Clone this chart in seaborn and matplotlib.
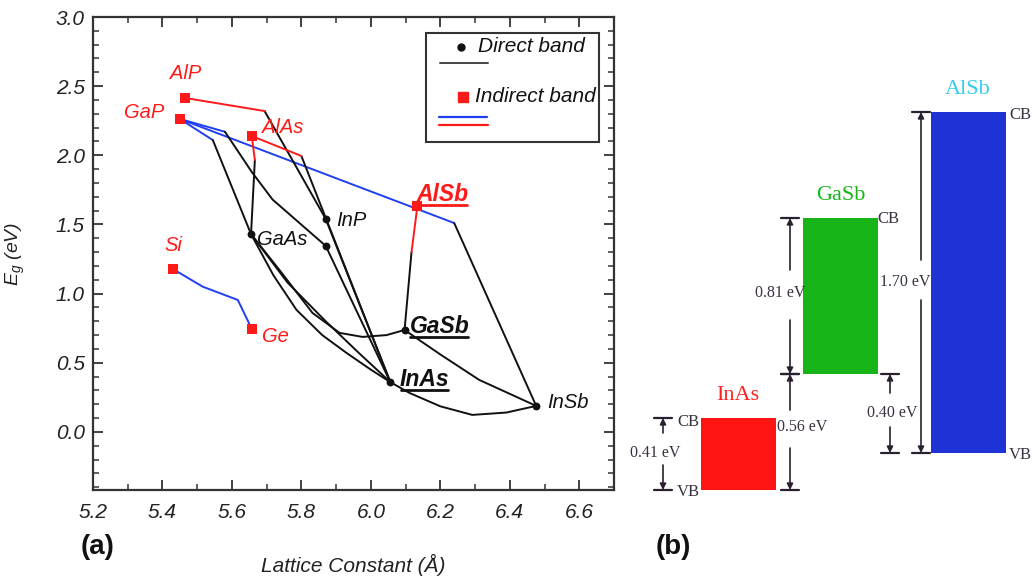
import numpy as np
import matplotlib
matplotlib.use('Agg')
import matplotlib.pyplot as plt
import seaborn as sns
from matplotlib.ticker import MultipleLocator
from matplotlib.lines import Line2D
from matplotlib.patches import Rectangle

# ---- (a) band gap vs lattice constant ----
direct_names = ['InP', 'GaAs', 'GaSb', 'InAs', 'InSb']
direct_a = [5.870, 5.870, 5.655, 6.097, 6.056, 6.476]
direct_eg = [1.54, 1.345, 1.43, 0.737, 0.36, 0.188]

indirect_names = ['AlP', 'GaP', 'AlAs', 'AlSb', 'Si', 'Ge']
indirect_a = [5.464, 5.450, 5.657, 6.134, 5.430, 5.657]
indirect_eg = [2.415, 2.263, 2.14, 1.634, 1.178, 0.745]

# alloy curves, indirect part (blue)
gap_alsb_a, gap_alsb_eg = [5.450, 6.240], [2.263, 1.51]
gap_gaas_ind_a, gap_gaas_ind_eg = [5.450, 5.545], [2.263, 2.11]
gap_inp_ind_a, gap_inp_ind_eg = [5.450, 5.58], [2.263, 2.17]
si_ge_a, si_ge_eg = [5.430, 5.516, 5.617, 5.657], [1.178, 1.05, 0.954, 0.745]

# alloy curves, indirect part (red)
alp_inp_ind_a, alp_inp_ind_eg = [5.464, 5.694], [2.415, 2.32]
alas_gaas_ind_a, alas_gaas_ind_eg = [5.657, 5.666], [2.14, 1.966]
alas_inas_ind_a, alas_inas_ind_eg = [5.657, 5.80], [2.14, 1.995]
alsb_gasb_ind_a, alsb_gasb_ind_eg = [6.134, 6.117], [1.634, 1.30]

# alloy curves, direct part (black)
alp_inp_a, alp_inp_eg = [5.694, 5.870], [2.32, 1.54]
gap_gaas_a, gap_gaas_eg = [5.545, 5.655], [2.11, 1.43]
gap_inp_a, gap_inp_eg = [5.58, 5.657, 5.717, 5.870], [2.17, 1.88, 1.68, 1.345]
alas_gaas_a, alas_gaas_eg = [5.666, 5.655], [1.966, 1.43]
alas_inas_a, alas_inas_eg = [5.80, 6.056], [1.995, 0.36]
inp_inas1_a, inp_inas1_eg = [5.870, 6.056], [1.54, 0.36]
inp_inas2_a, inp_inas2_eg = [5.870, 6.056], [1.345, 0.36]
gaas_inas1_a = [5.655, 5.76, 5.87, 5.97, 6.056]
gaas_inas1_eg = [1.43, 1.08, 0.80, 0.56, 0.36]
gaas_inas2_a = [5.655, 5.72, 5.786, 5.86, 5.93, 6.0, 6.056]
gaas_inas2_eg = [1.43, 1.13, 0.882, 0.70, 0.571, 0.45, 0.36]
gaas_gasb_a = [5.655, 5.737, 5.832, 5.91, 5.976, 6.045, 6.097]
gaas_gasb_eg = [1.43, 1.17, 0.86, 0.716, 0.687, 0.70, 0.737]
alsb_gasb_a, alsb_gasb_eg = [6.117, 6.097], [1.30, 0.737]
alsb_insb_a, alsb_insb_eg = [6.240, 6.476], [1.51, 0.188]
gasb_insb_a, gasb_insb_eg = [6.097, 6.2, 6.312, 6.476], [0.737, 0.56, 0.376, 0.188]
inas_insb_a = [6.056, 6.111, 6.2, 6.292, 6.39, 6.476]
inas_insb_eg = [0.36, 0.282, 0.185, 0.123, 0.14, 0.188]

# ---- (b) band alignment ----
band_names = ['InAs', 'GaSb', 'AlSb']
band_vb = [0.0, 0.58, 0.185]
band_cb = [0.36, 1.36, 1.89]
gap_labels = ['0.41 eV', '0.81 eV', '1.70 eV']
offset_labels = ['0.56 eV', '0.40 eV']

sns.set_theme(style='ticks')
plt.rcParams['font.family'] = ['Liberation Sans', 'DejaVu Sans']
plt.rcParams['mathtext.fontset'] = 'custom'
plt.rcParams['mathtext.it'] = 'Liberation Sans:italic'
plt.rcParams['mathtext.rm'] = 'Liberation Sans:italic'

fig = plt.figure(figsize=(10.35, 5.78), dpi=100)
ax = fig.add_axes([93 / 1035, 1 - 490 / 578, 521 / 1035, 473 / 578])
ax2 = fig.add_axes([600 / 1035, 1 - 530 / 578, 435 / 1035, 470 / 578])

blue, red, black = '#1f3ff0', '#ff1a1a', '#111111'
curves = [
    (gap_alsb_a, gap_alsb_eg, blue), (gap_gaas_ind_a, gap_gaas_ind_eg, blue),
    (gap_inp_ind_a, gap_inp_ind_eg, blue), (si_ge_a, si_ge_eg, blue),
    (alp_inp_a, alp_inp_eg, black), (gap_gaas_a, gap_gaas_eg, black),
    (gap_inp_a, gap_inp_eg, black), (alas_gaas_a, alas_gaas_eg, black),
    (alas_inas_a, alas_inas_eg, black), (inp_inas1_a, inp_inas1_eg, black),
    (inp_inas2_a, inp_inas2_eg, black), (gaas_inas1_a, gaas_inas1_eg, black),
    (gaas_inas2_a, gaas_inas2_eg, black), (gaas_gasb_a, gaas_gasb_eg, black),
    (alsb_gasb_a, alsb_gasb_eg, black), (alsb_insb_a, alsb_insb_eg, black),
    (gasb_insb_a, gasb_insb_eg, black), (inas_insb_a, inas_insb_eg, black),
    (alp_inp_ind_a, alp_inp_ind_eg, red), (alas_gaas_ind_a, alas_gaas_ind_eg, red),
    (alas_inas_ind_a, alas_inas_ind_eg, red), (alsb_gasb_ind_a, alsb_gasb_ind_eg, red),
]
for xs, ys, c in curves:
    sns.lineplot(x=xs, y=ys, sort=False, estimator=None, color=c, lw=1.4,
                 ax=ax, legend=False)

sns.scatterplot(x=direct_a, y=direct_eg, color=black, marker='o', s=32,
                linewidth=0, ax=ax, zorder=5, legend=False)
sns.scatterplot(x=indirect_a, y=indirect_eg, color=red, marker='s', s=42,
                linewidth=0, ax=ax, zorder=5, legend=False)

# material labels
lab_a = {'AlP': (5.467, 2.595), 'GaP': (5.347, 2.306), 'AlAs': (5.746, 2.198),
         'Si': (5.430, 1.345), 'Ge': (5.726, 0.687), 'InP': (5.944, 1.525),
         'GaAs': (5.746, 1.388), 'InSb': (6.568, 0.21)}
for nm in indirect_names:
    if nm == 'AlSb':
        continue
    ax.text(*lab_a[nm], nm, color=red, fontsize=14.5, style='italic',
            ha='center', va='center')
for nm in ['InP', 'GaAs', 'InSb']:
    ax.text(*lab_a[nm], nm, color=black, fontsize=14.5, style='italic',
            ha='center', va='center')
underlined = []
underlined.append(ax.text(6.206, 1.713, 'AlSb', color=red, fontsize=16.5,
                          style='italic', weight='bold', ha='center', va='center'))
underlined.append(ax.text(6.197, 0.759, 'GaSb', color=black, fontsize=16.5,
                          style='italic', weight='bold', ha='center', va='center'))
underlined.append(ax.text(6.154, 0.376, 'InAs', color=black, fontsize=16.5,
                          style='italic', weight='bold', ha='center', va='center'))

# axes styling
ax.set_xlim(5.2, 6.7)
ax.set_ylim(-0.42, 3.0)
xt = np.round(np.arange(5.2, 6.61, 0.2), 1)
yt = np.round(np.arange(0, 3.01, 0.5), 1)
ax.set_xticks(xt)
ax.set_xticklabels([f'{v:.1f}' for v in xt], style='italic')
ax.set_yticks(yt)
ax.set_yticklabels([f'{v:.1f}' for v in yt], style='italic')
ax.xaxis.set_minor_locator(MultipleLocator(0.1))
ax.yaxis.set_minor_locator(MultipleLocator(0.1))
ax.tick_params(which='both', direction='in', top=True, right=True,
               color='#333333', labelcolor='#222222', labelsize=15)
ax.tick_params(which='major', length=7, width=1.3)
ax.tick_params(which='minor', length=4, width=1.1)
ax.tick_params(axis='x', pad=9)
ax.tick_params(axis='y', pad=6)
for sp in ax.spines.values():
    sp.set_color('#333333')
    sp.set_linewidth(1.6)
ax.set_xlabel('Lattice Constant (Å)', fontsize=15, style='italic', color='#222222')
ax.set_ylabel(r'$E_g$ (eV)', fontsize=14, style='italic', color='#222222')
ax.xaxis.set_label_coords(0.5, -0.135)
ax.yaxis.set_label_coords(-0.126, 0.5)

# legend drawn by hand
ax.add_patch(Rectangle((0.639, 0.736), 0.332, 0.230, transform=ax.transAxes,
                       fill=False, edgecolor='#333333', lw=1.5, zorder=6))
ax.plot([0.706], [0.937], 'o', color=black, ms=5, transform=ax.transAxes, zorder=7)
ax.plot([0.666, 0.758], [0.903, 0.903], color='#444444', lw=1.4, transform=ax.transAxes)
ax.plot([0.710], [0.831], 's', color=red, ms=6.5, transform=ax.transAxes, zorder=7)
ax.plot([0.664, 0.756], [0.789, 0.789], color=blue, lw=1.6, transform=ax.transAxes)
ax.plot([0.664, 0.758], [0.772, 0.772], color=red, lw=1.6, transform=ax.transAxes)
ax.text(0.739, 0.937, 'Direct band', transform=ax.transAxes, fontsize=15,
        style='italic', va='center', ha='left', color='#111111')
ax.text(0.733, 0.831, 'Indirect band', transform=ax.transAxes, fontsize=15,
        style='italic', va='center', ha='left', color='#111111')

# ---- panel (b) ----
ax2.set_xlim(0, 435)
ax2.set_ylim(-0.2, 2.15)
ax2.axis('off')
box_x = [138, 240.5, 368]
box_colors = ['#ff1414', '#16b416', '#1d33d6']
label_colors = ['#ff2020', '#16b816', '#33ccf0']
heights = [c - v for c, v in zip(band_cb, band_vb)]
ax2.bar(box_x, heights, bottom=band_vb, width=75, color=box_colors, linewidth=0)
for x, c, nm, col in zip(box_x, band_cb, band_names, label_colors):
    ax2.text(x, c + 0.11, nm, color=col, fontsize=16, family='Liberation Serif',
             ha='center', va='center')

ink = '#2a2030'
txt = '#3a3040'
serif = 'Liberation Serif'


def span(x, lo, hi, lab, lab_x, lab_y, gap_lo, gap_hi, ticks=True):
    if ticks:
        for yv in (lo, hi):
            ax2.plot([x - 9, x + 9], [yv, yv], color=ink, lw=1.6)
    arr = dict(arrowstyle='-|>', color=ink, lw=1.2, mutation_scale=9,
               shrinkA=0, shrinkB=0)
    ax2.annotate('', xy=(x, hi), xytext=(x, gap_hi), arrowprops=arr)
    ax2.annotate('', xy=(x, lo), xytext=(x, gap_lo), arrowprops=arr)
    ax2.text(lab_x, lab_y, lab, fontsize=11.5, family=serif, color=txt,
             ha='center', va='center')


span(63, band_vb[0], band_cb[0], gap_labels[0], 55, 0.185, 0.125, 0.285)
span(190, band_vb[0], band_vb[1], offset_labels[0], 202, 0.315, 0.21, 0.40)
span(190, band_vb[1], band_cb[1], gap_labels[1], 180, 0.985, 0.85, 1.10)
span(290, band_vb[2], band_vb[1], offset_labels[1], 292, 0.385, 0.315, 0.485)
span(321, band_vb[2], band_cb[2], gap_labels[2], 305, 1.04, 0.95, 1.15)

for x, y, s in [(88, 0.34, 'CB'), (88, -0.01, 'VB'), (288, 1.355, 'CB'),
                (420, 1.875, 'CB'), (420, 0.175, 'VB')]:
    ax2.text(x, y, s, fontsize=12, family=serif, color=txt, ha='center', va='center')

fig.text(98 / 1035, 1 - 547 / 578, '(a)', fontsize=20, weight='bold',
         ha='center', va='center', color='#111111')
fig.text(673 / 1035, 1 - 547 / 578, '(b)', fontsize=20, weight='bold',
         ha='center', va='center', color='#111111')

# underline the highlighted materials
fig.canvas.draw()
rend = fig.canvas.get_renderer()
inv = fig.transFigure.inverted()
for t in underlined:
    bb = t.get_window_extent(renderer=rend)
    (x0, y0), (x1, _) = inv.transform([(bb.x0 + 1, bb.y0 + 1), (bb.x1 - 1, bb.y1)])
    fig.add_artist(Line2D([x0, x1], [y0, y0], transform=fig.transFigure,
                          color=t.get_color(), lw=2))

fig.savefig('out.png', dpi=100)
